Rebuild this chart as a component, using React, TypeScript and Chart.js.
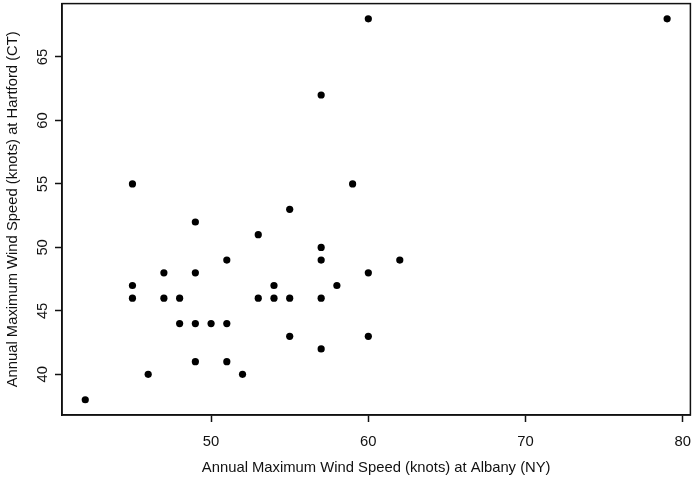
import React, { useEffect, useRef } from "react";
import { Chart, registerables } from "chart.js";

Chart.register(...registerables);

const albany: number[] = [42, 45, 45, 45, 46, 47, 47, 48, 48, 49, 49, 49, 49, 50, 51, 51, 51, 52, 53, 53, 54, 54, 55, 55, 55, 57, 57, 57, 57, 57, 58, 59, 60, 60, 60, 62, 79];
const hartford: number[] = [38, 55, 47, 46, 40, 48, 46, 46, 44, 52, 48, 44, 41, 44, 49, 44, 41, 40, 51, 46, 47, 46, 53, 46, 43, 62, 50, 49, 46, 42, 47, 55, 68, 48, 43, 49, 68];
const xTicks: number[] = [50, 60, 70, 80];
const yTicks: number[] = [40, 45, 50, 55, 60, 65];
const xTitle = "Annual Maximum Wind Speed (knots) at Albany (NY)";
const yTitle = "Annual Maximum Wind Speed (knots) at Hartford (CT)";

const FONT = "'Liberation Sans', Arial, Helvetica, sans-serif";
const INK = "#111";

export default function App() {
  const ref = useRef<HTMLCanvasElement | null>(null);
  useEffect(() => {
    if (!ref.current) return;
    const pts = albany.map((x, i) => ({ x, y: hartford[i] }));
    const xMin = Math.min(...albany), xMax = Math.max(...albany);
    const yMin = Math.min(...hartford), yMax = Math.max(...hartford);
    const xPad = (xMax - xMin) * 0.04, yPad = (yMax - yMin) * 0.04;
    const boxPlugin = {
      id: "box",
      afterDraw(chart: any) {
        const { ctx, chartArea: a } = chart;
        ctx.save();
        ctx.strokeStyle = INK;
        ctx.lineWidth = 1.5;
        ctx.strokeRect(a.left, a.top, a.right - a.left, a.bottom - a.top);
        ctx.restore();
      },
    };
    const chart = new Chart(ref.current, {
      type: "scatter",
      data: {
        datasets: [
          {
            data: pts,
            backgroundColor: "#000",
            borderWidth: 0,
            pointRadius: 3.6,
            pointHoverRadius: 3.6,
          },
        ],
      },
      options: {
        responsive: false,
        animation: false,
        layout: { padding: { top: 2.4, right: 0.6, left: 0, bottom: 0 } },
        plugins: { legend: { display: false }, tooltip: { enabled: false } },
        scales: {
          x: {
            type: "linear",
            min: xMin - xPad,
            max: xMax + xPad,
            afterBuildTicks: (s: any) => {
              s.ticks = xTicks.map((v) => ({ value: v }));
            },
            afterFit: (s: any) => {
              s.height = 70;
              s.paddingLeft = 0;
              s.paddingRight = 0;
            },
            grid: { drawOnChartArea: false, drawTicks: true, tickLength: 7, tickColor: INK, tickWidth: 1.5 },
            border: { display: true, color: INK, width: 1.5 },
            ticks: { color: INK, font: { family: FONT, size: 14.8 }, padding: 11, maxRotation: 0, minRotation: 0 },
            title: { display: true, text: xTitle, color: INK, font: { family: FONT, size: 14.8 }, padding: { top: 0, bottom: 8 } },
          },
          y: {
            type: "linear",
            min: yMin - yPad,
            max: yMax + yPad,
            afterBuildTicks: (s: any) => {
              s.ticks = yTicks.map((v) => ({ value: v }));
            },
            afterFit: (s: any) => {
              s.width = 62;
              s.paddingTop = 0;
              s.paddingBottom = 0;
            },
            grid: { drawOnChartArea: false, drawTicks: true, tickLength: 7, tickColor: INK, tickWidth: 1.5 },
            border: { display: true, color: INK, width: 1.5 },
            ticks: { color: INK, font: { family: FONT, size: 14.8 }, padding: 4, minRotation: 90, maxRotation: 90, crossAlign: "center" },
            title: { display: true, text: yTitle, color: INK, font: { family: FONT, size: 14.8 }, padding: { top: 4, bottom: 0 } },
          },
        },
      },
      plugins: [boxPlugin],
    } as any);
    return () => chart.destroy();
  }, []);
  return (
    <div style={{ position: "fixed", left: 0, top: 0, width: 694, height: 485, background: "#fff" }}>
      <canvas ref={ref} width={694} height={485} />
    </div>
  );
}
